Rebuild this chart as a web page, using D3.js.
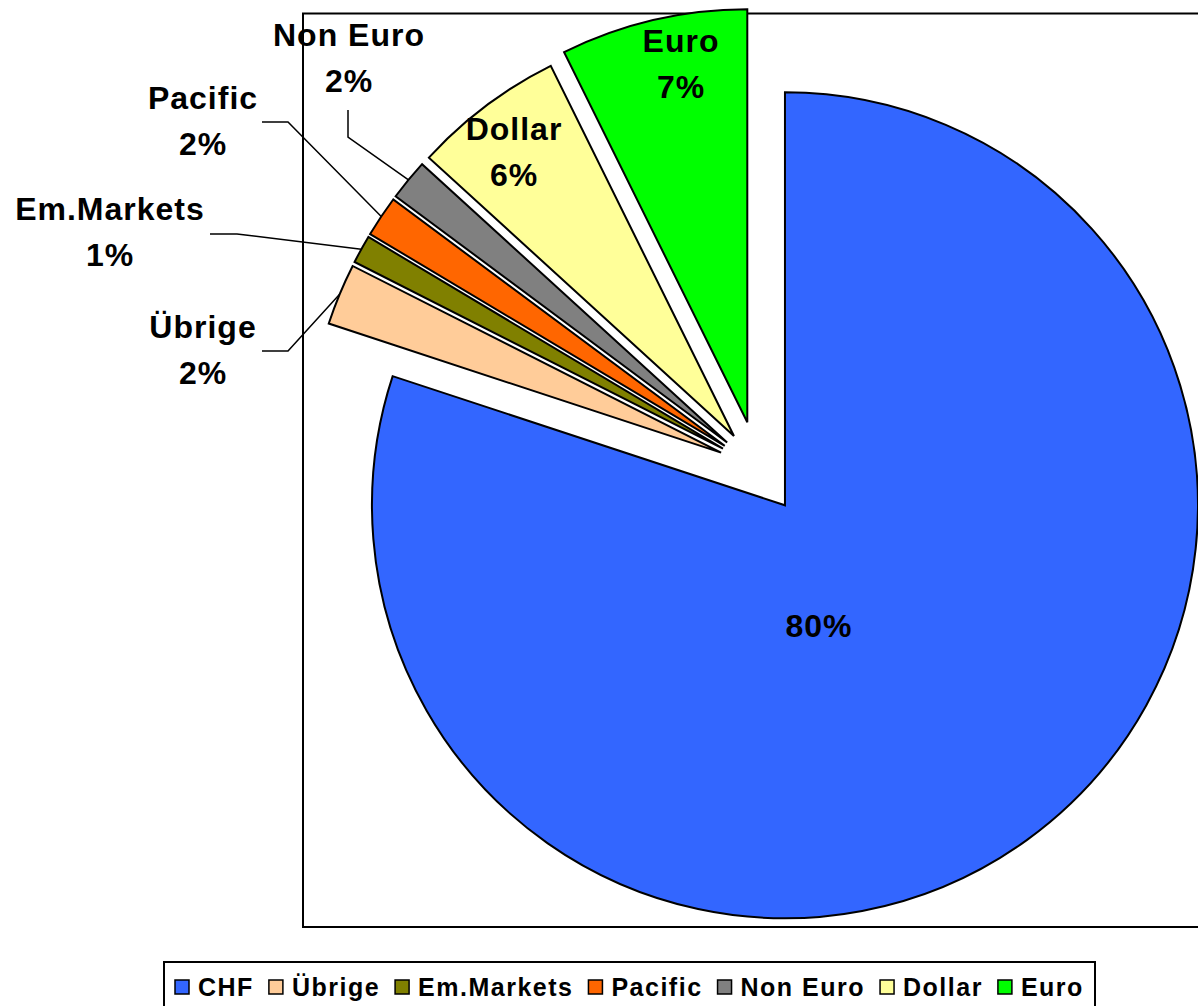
<!DOCTYPE html>
<html>
<head>
<meta charset="utf-8">
<script src="https://cdn.jsdelivr.net/npm/d3@7"></script>
<style>
  body { margin: 0; background: #fff; }
  text { font-family: "Liberation Sans", Arial, sans-serif; font-weight: bold; fill: #000; }
</style>
</head>
<body>
<div id="chart"></div>
<script>
// data (shares in percent)
var categories = ["CHF", "Übrige", "Em.Markets", "Pacific", "Non Euro", "Dollar", "Euro"];
var values = [79.9, 2.4, 1.1, 1.6, 1.6, 5.9, 7.3];
var colors = ["#3366FF", "#FFCC99", "#808000", "#FF6600", "#808080", "#FFFF99", "#00FF00"];

var width = 1198;
var height = 1006;
var cx = 758, cy = 468, radius = 413;

// how far each slice is pulled out (Excel per-point explosion)
var explode = { "CHF": 46, "Euro": 47 };
var defaultExplode = 40;

// label placement: [x, baseline], name = whether the category name is shown
var labelPos = {
  "CHF": { x: 819, y: 637, name: false },
  "Übrige": { x: 203, y: 338, name: true, leader: [[262, 351], [288, 351]] },
  "Em.Markets": { x: 110, y: 220, name: true, leader: [[210, 234], [237, 234]] },
  "Pacific": { x: 203, y: 109, name: true, leader: [[262, 122], [288, 122]] },
  "Non Euro": { x: 349, y: 46, name: true, leader: [[348, 110], [348, 137]] },
  "Dollar": { x: 514, y: 140, name: true },
  "Euro": { x: 681, y: 52, name: true }
};

var svg = d3.select("#chart").append("svg")
    .attr("width", width).attr("height", height);

// plot area border
svg.append("rect")
   .attr("x", 303).attr("y", 13.5)
   .attr("width", 920).attr("height", 913.5)
   .style("fill", "none")
   .style("stroke", "#000")
   .style("stroke-width", 2);

var total = d3.sum(values);
var pie = d3.pie().sort(null).value(function(d) { return d.value; });
var data = pie(categories.map(function(c, i) {
  return { name: c, value: values[i], color: colors[i] };
}));

var arc = d3.arc().innerRadius(0).outerRadius(radius);

function apex(d) {
  var mid = (d.startAngle + d.endAngle) / 2;
  var e = explode[d.data.name] !== undefined ? explode[d.data.name] : defaultExplode;
  return [cx + Math.sin(mid) * e, cy - Math.cos(mid) * e];
}

svg.selectAll("path.slice")
   .data(data)
   .enter().append("path")
   .attr("class", "slice")
   .attr("d", arc)
   .attr("transform", function(d) { var p = apex(d); return "translate(" + p[0] + "," + p[1] + ")"; })
   .style("fill", function(d) { return d.data.color; })
   .style("stroke", "#000")
   .style("stroke-width", 2)
   .style("stroke-linejoin", "miter");

// leader lines from labels to the outer edge of the slice
var line = d3.line();
data.forEach(function(d) {
  var lp = labelPos[d.data.name];
  if (!lp.leader) return;
  var mid = (d.startAngle + d.endAngle) / 2;
  var a = apex(d);
  var end = [a[0] + Math.sin(mid) * radius, a[1] - Math.cos(mid) * radius];
  svg.append("path")
     .attr("d", line(lp.leader.concat([end])))
     .style("fill", "none")
     .style("stroke", "#000")
     .style("stroke-width", 1.5);
});

var pct = function(v) { return Math.round(v / total * 100) + "%"; };

data.forEach(function(d) {
  var lp = labelPos[d.data.name];
  var t = svg.append("text")
     .attr("x", lp.x).attr("y", lp.y)
     .attr("text-anchor", "middle")
     .style("font-size", "32px")
     .style("letter-spacing", "1px");
  if (lp.name) {
    t.append("tspan").attr("x", lp.x).attr("y", lp.y).text(d.data.name);
    t.append("tspan").attr("x", lp.x).attr("y", lp.y + 46).text(pct(d.data.value));
  } else {
    t.text(pct(d.data.value));
  }
});

// legend
var legend = svg.append("g");
legend.append("rect")
   .attr("x", 164).attr("y", 962)
   .attr("width", 931).attr("height", 60)
   .style("fill", "#fff")
   .style("stroke", "#000")
   .style("stroke-width", 2);

var lx = 175;
categories.forEach(function(c, i) {
  legend.append("rect")
     .attr("x", lx).attr("y", 980)
     .attr("width", 14).attr("height", 14)
     .style("fill", colors[i])
     .style("stroke", "#000")
     .style("stroke-width", 1.5);
  var t = legend.append("text")
     .attr("x", lx + 23).attr("y", 996)
     .style("font-size", "25px")
     .style("letter-spacing", "1.5px")
     .text(c);
  lx = lx + 23 + t.node().getComputedTextLength() + 15;
});
</script>
</body>
</html>
